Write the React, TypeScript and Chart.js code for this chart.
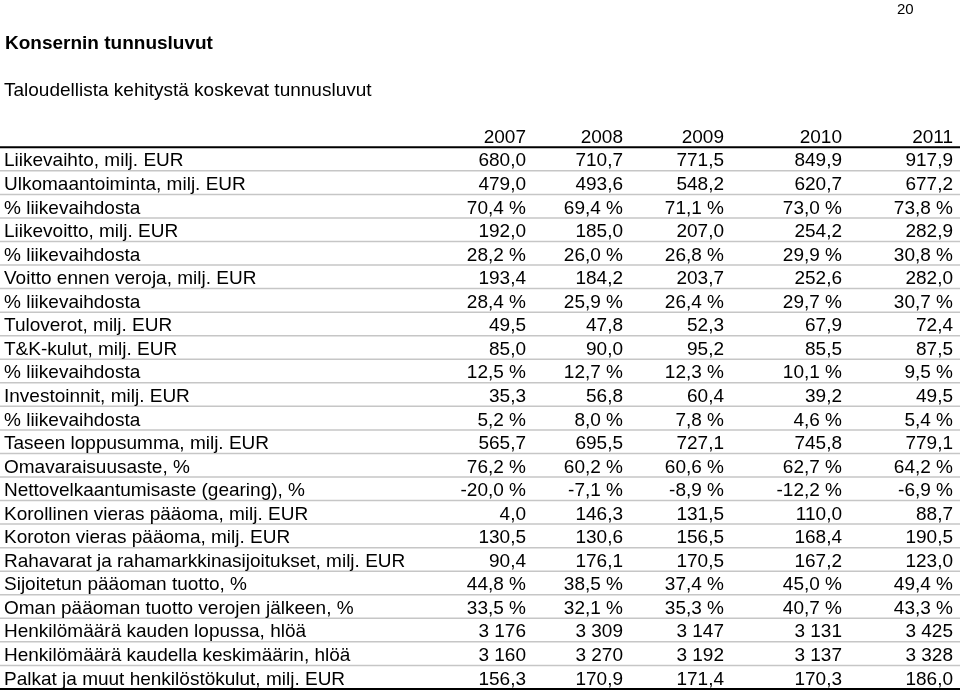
import React, { useEffect, useRef } from "react";
import { Chart, registerables } from "chart.js";

Chart.register(...registerables);

const pageNumber = "20";
const title = "Konsernin tunnusluvut";
const subtitle = "Taloudellista kehitystä koskevat tunnusluvut";
const years = ["2007", "2008", "2009", "2010", "2011"];

const rowLabels = [
  "Liikevaihto, milj. EUR",
  "Ulkomaantoiminta, milj. EUR",
  "% liikevaihdosta",
  "Liikevoitto, milj. EUR",
  "% liikevaihdosta",
  "Voitto ennen veroja, milj. EUR",
  "% liikevaihdosta",
  "Tuloverot, milj. EUR",
  "T&K-kulut, milj. EUR",
  "% liikevaihdosta",
  "Investoinnit, milj. EUR",
  "% liikevaihdosta",
  "Taseen loppusumma, milj. EUR",
  "Omavaraisuusaste, %",
  "Nettovelkaantumisaste (gearing), %",
  "Korollinen vieras pääoma, milj. EUR",
  "Koroton vieras pääoma, milj. EUR",
  "Rahavarat ja rahamarkkinasijoitukset, milj. EUR",
  "Sijoitetun pääoman tuotto, %",
  "Oman pääoman tuotto verojen jälkeen, %",
  "Henkilömäärä kauden lopussa, hlöä",
  "Henkilömäärä kaudella keskimäärin, hlöä",
  "Palkat ja muut henkilöstökulut, milj. EUR",
];

// n = number with one decimal, p = percent, i = integer with thousands space
const rowFormats = ["n", "n", "p", "n", "p", "n", "p", "n", "n", "p", "n", "p", "n", "p", "p", "n", "n", "n", "p", "p", "i", "i", "n"];

const values2007 = [680.0, 479.0, 70.4, 192.0, 28.2, 193.4, 28.4, 49.5, 85.0, 12.5, 35.3, 5.2, 565.7, 76.2, -20.0, 4.0, 130.5, 90.4, 44.8, 33.5, 3176, 3160, 156.3];
const values2008 = [710.7, 493.6, 69.4, 185.0, 26.0, 184.2, 25.9, 47.8, 90.0, 12.7, 56.8, 8.0, 695.5, 60.2, -7.1, 146.3, 130.6, 176.1, 38.5, 32.1, 3309, 3270, 170.9];
const values2009 = [771.5, 548.2, 71.1, 207.0, 26.8, 203.7, 26.4, 52.3, 95.2, 12.3, 60.4, 7.8, 727.1, 60.6, -8.9, 131.5, 156.5, 170.5, 37.4, 35.3, 3147, 3192, 171.4];
const values2010 = [849.9, 620.7, 73.0, 254.2, 29.9, 252.6, 29.7, 67.9, 85.5, 10.1, 39.2, 4.6, 745.8, 62.7, -12.2, 110.0, 168.4, 167.2, 45.0, 40.7, 3131, 3137, 170.3];
const values2011 = [917.9, 677.2, 73.8, 282.9, 30.8, 282.0, 30.7, 72.4, 87.5, 9.5, 49.5, 5.4, 779.1, 64.2, -6.9, 88.7, 190.5, 123.0, 49.4, 43.3, 3425, 3328, 186.0];

const seriesValues = [values2007, values2008, values2009, values2010, values2011];

// layout (pixels on the x scale): right edges of the value columns
const LABEL_X = 4;
const COLUMN_RIGHT = [526, 623, 724, 842, 953];
const FONT = '"Liberation Sans", Arial, sans-serif';
const FONT_SIZE = 19;
const TEXT_DY = 7.4;

function formatValue(v: number, f: string): string {
  if (f === "i") {
    const s = Math.round(v).toString();
    return s.replace(/\B(?=(\d{3})+(?!\d))/g, " ");
  }
  const s = v.toFixed(1).replace(".", ",");
  return f === "p" ? s + " %" : s;
}

const tablePlugin = {
  id: "tableText",
  afterDatasetsDraw(chart: any) {
    const { ctx, scales } = chart;
    const xs = scales.x;
    const ys = scales.y;
    const left = xs.getPixelForValue(0);
    const right = xs.getPixelForValue(960);
    ctx.save();

    // row separators
    for (let r = 1; r < rowLabels.length; r++) {
      const y = ys.getPixelForValue(r + 0.5);
      ctx.strokeStyle = "#c6c6c6";
      ctx.lineWidth = 1.5;
      ctx.beginPath();
      ctx.moveTo(left, y);
      ctx.lineTo(right, y);
      ctx.stroke();
    }
    [0.5, rowLabels.length + 0.5].forEach((v) => {
      const y = ys.getPixelForValue(v);
      ctx.strokeStyle = "#000";
      ctx.lineWidth = 2;
      ctx.beginPath();
      ctx.moveTo(left, y);
      ctx.lineTo(right, y);
      ctx.stroke();
    });

    ctx.fillStyle = "#000";
    ctx.textBaseline = "alphabetic";

    // page number
    ctx.font = `15px ${FONT}`;
    ctx.textAlign = "left";
    ctx.fillText(pageNumber, xs.getPixelForValue(897), ys.getPixelForValue(-5.5) + 8);

    // title & subtitle
    ctx.font = `bold ${FONT_SIZE}px ${FONT}`;
    ctx.fillText(title, xs.getPixelForValue(LABEL_X + 1), ys.getPixelForValue(-4) + TEXT_DY + 0.6);
    ctx.font = `${FONT_SIZE}px ${FONT}`;
    ctx.fillText(subtitle, xs.getPixelForValue(LABEL_X), ys.getPixelForValue(-2) + TEXT_DY);

    // header years
    ctx.textAlign = "right";
    years.forEach((yr, c) => {
      ctx.fillText(yr, xs.getPixelForValue(COLUMN_RIGHT[c]), ys.getPixelForValue(0) + TEXT_DY);
    });

    // row labels
    ctx.textAlign = "left";
    rowLabels.forEach((lab, r) => {
      ctx.fillText(lab, xs.getPixelForValue(LABEL_X), ys.getPixelForValue(r + 1) + TEXT_DY);
    });

    // cell values at the dataset elements' positions
    ctx.textAlign = "right";
    chart.data.datasets.forEach((ds: any, di: number) => {
      const meta = chart.getDatasetMeta(di);
      meta.data.forEach((el: any, i: number) => {
        const txt = formatValue(ds.values[i], rowFormats[i]);
        ctx.fillText(txt, el.x, el.y + TEXT_DY);
      });
    });
    ctx.restore();
  },
};

export default function App() {
  const ref = useRef<HTMLCanvasElement>(null);
  useEffect(() => {
    if (!ref.current) return;
    const datasets = seriesValues.map((vals, c) => ({
      label: years[c],
      data: vals.map((_, r) => ({ x: COLUMN_RIGHT[c], y: r + 1 })),
      values: vals,
      pointRadius: 0,
      pointHoverRadius: 0,
      showLine: false,
    }));
    const chart = new Chart(ref.current, {
      type: "scatter",
      data: { datasets: datasets as any },
      options: {
        animation: false,
        responsive: false,
        maintainAspectRatio: false,
        layout: { padding: 0 },
        events: [],
        plugins: { legend: { display: false }, tooltip: { enabled: false } },
        scales: {
          x: { type: "linear", min: 0, max: 960, display: false },
          y: { type: "linear", min: -5.754, max: 23.545, reverse: true, display: false },
        },
      },
      plugins: [tablePlugin],
    });
    return () => chart.destroy();
  }, []);
  return (
    <div style={{ position: "absolute", left: 0, top: 0, width: 960, height: 690, background: "#fff" }}>
      <canvas ref={ref} width={960} height={690} style={{ display: "block" }} />
    </div>
  );
}
